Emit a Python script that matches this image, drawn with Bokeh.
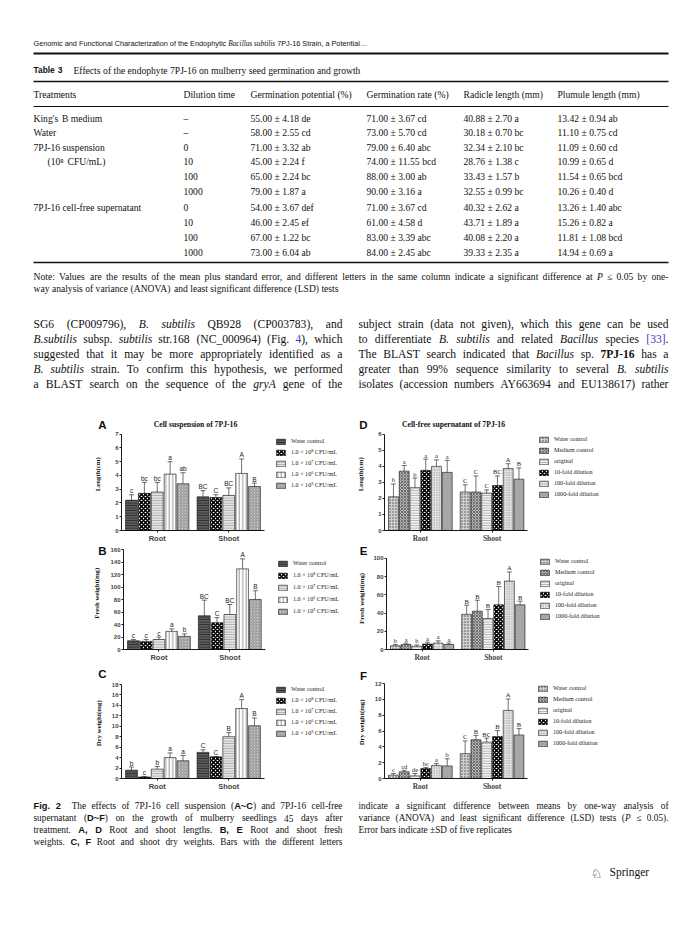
import re
import math
from bokeh.plotting import figure
from bokeh.models import (ColumnDataSource, Range1d, Legend, LegendItem, FixedTicker)
from bokeh.transform import dodge
from bokeh.layouts import column, row
from bokeh.core.properties import value, field
from bokeh.embed import file_html
from bokeh.resources import INLINE

# ------------------------------------------------------------------ data
groups = ["Root", "Shoot"]

susp_labels = ["Water control", "1.0 × 10⁸ CFU/mL", "1.0 × 10⁷ CFU/mL",
               "1.0 × 10⁶ CFU/mL", "1.0 × 10⁵ CFU/mL"]
sup_labels = ["Water control", "Medium control", "original",
              "10-fold dilution", "100-fold dilution", "1000-fold dilution"]

# A  length (cm): per treatment [Root, Shoot]
A_mean = [[2.2, 2.45], [2.7, 2.4], [2.8, 2.55], [4.1, 4.15], [3.4, 3.2]]
A_err = [[0.4, 0.45], [0.8, 0.2], [0.7, 0.55], [0.9, 1.05], [0.8, 0.25]]
A_let = [["c", "BC"], ["bc", "C"], ["bc", "BC"], ["a", "A"], ["ab", "B"]]

# B  fresh weight (mg)
B_mean = [[14, 54], [13, 43], [16, 56], [29, 129], [21, 80]]
B_err = [[2, 25], [3, 8], [4, 16], [4, 16], [4, 14]]
B_let = [["c", "BC"], ["c", "C"], ["c", "BC"], ["a", "A"], ["b", "B"]]

# C  dry weight (mg)
C_mean = [[1.6, 5.0], [0.3, 4.15], [1.8, 8.0], [4.0, 13.4], [3.4, 10.1]]
C_err = [[0.6, 0.5], [0.1, 0.05], [0.5, 0.8], [0.9, 1.7], [1.0, 1.5]]
C_let = [["b", "C"], ["c", "C"], ["b", "B"], ["a", "A"], ["a", "B"]]

# D  length (cm)
D_mean = [[2.1, 2.4], [3.7, 2.4], [2.67, 2.33], [3.75, 2.8], [4.0, 3.86], [3.62, 3.2]]
D_err = [[0.8, 0.45], [0.35, 1.0], [0.6, 0.2], [0.7, 0.6], [0.4, 0.3], [0.75, 0.7]]
D_let = [["b", "C"], ["a", "C"], ["b", "C"], ["a", "BC"], ["a", "A"], ["a", "B"]]

# E  fresh weight (mg)
E_mean = [[4.0, 38.6], [5.5, 42.0], [3.5, 34.0], [6.0, 49.0], [7.0, 75.0], [5.5, 49.0]]
E_err = [[1.5, 10], [1.5, 12], [1.5, 10], [2.0, 20], [2.5, 10], [1.5, 4]]
E_let = [["b", "B"], ["a", "B"], ["b", "B"], ["a", "B"], ["a", "A"], ["a", "B"]]

# F  dry weight (mg)
F_mean = [[0.42, 3.14], [0.84, 4.9], [0.33, 4.6], [1.26, 5.3], [1.63, 8.6], [1.59, 5.5]]
F_err = [[0.2, 1.6], [0.2, 0.55], [0.3, 0.5], [0.12, 0.75], [0.25, 1.45], [0.9, 0.8]]
F_let = [["c", "C"], ["cd", "B"], ["de", "BC"], ["bc", "B"], ["a", "A"], ["b", "B"]]

# Table 3
tbl_head = ["Treatments", "Dilution time", "Germination potential (%)",
            "Germination rate (%)", "Radicle length (mm)", "Plumule length (mm)"]
tbl_treat = ["King's B medium", "Water", "7PJ-16 suspension", "(10⁸ CFU/mL)", "", "",
             "7PJ-16 cell-free supernatant", "", "", ""]
tbl_dilution = ["–", "–", "0", "10", "100", "1000", "0", "10", "100", "1000"]
tbl_potential = ["55.00 ± 4.18 de", "58.00 ± 2.55 cd", "71.00 ± 3.32 ab", "45.00 ± 2.24 f",
                 "65.00 ± 2.24 bc", "79.00 ± 1.87 a", "54.00 ± 3.67 def", "46.00 ± 2.45 ef",
                 "67.00 ± 1.22 bc", "73.00 ± 6.04 ab"]
tbl_rate = ["71.00 ± 3.67 cd", "73.00 ± 5.70 cd", "79.00 ± 6.40 abc", "74.00 ± 11.55 bcd",
            "88.00 ± 3.00 ab", "90.00 ± 3.16 a", "71.00 ± 3.67 cd", "61.00 ± 4.58 d",
            "83.00 ± 3.39 abc", "84.00 ± 2.45 abc"]
tbl_radicle = ["40.88 ± 2.70 a", "30.18 ± 0.70 bc", "32.34 ± 2.10 bc", "28.76 ± 1.38 c",
               "33.43 ± 1.57 b", "32.55 ± 0.99 bc", "40.32 ± 2.62 a", "43.71 ± 1.89 a",
               "40.08 ± 2.20 a", "39.33 ± 2.35 a"]
tbl_plumule = ["13.42 ± 0.94 ab", "11.10 ± 0.75 cd", "11.09 ± 0.60 cd", "10.99 ± 0.65 d",
               "11.54 ± 0.65 bcd", "10.26 ± 0.40 d", "13.26 ± 1.40 abc", "15.26 ± 0.82 a",
               "11.81 ± 1.08 bcd", "14.94 ± 0.69 a"]

# ------------------------------------------------------------------ fonts / metrics
SERIF = "Liberation Serif"
SANS = "Liberation Sans"


def _tab(spec):
    d = {}
    for w, chars in spec:
        for c in chars:
            d[c] = w
    return d


W_TR = _tab([(250, " ,."), (278, "ijlt/:;"), (333, "()[]-fr'’I!"), (389, "sJ"),
             (444, "acez?"), (500, "bdghknopquvxy0123456789_–"), (541, "~"), (549, "≤"),
             (556, "FPS"), (564, "±×+=<>"), (611, "ELTZ"), (667, "BCR"),
             (722, "ADGHKNOQUVXYw"), (778, "m"), (833, "%"), (889, "M"), (944, "W")])
W_TI = _tab([(250, " ,."), (278, "fijlt/:;"), (333, "()[]-I'’"), (389, "rsz"),
             (444, "ceJkvxy"), (500, "abdghnopqu0123456789S"), (556, "LTYZ"),
             (611, "ABEFPRVX"), (667, "CKNw"), (722, "DGHOQUm"), (833, "MW%")])
W_TB = _tab([(250, " ,."), (278, "il:;/"), (333, "()[]-ftj'’"), (389, "sI"), (444, "cerz"),
             (500, "agvxyJ0123456789"), (556, "bdhknpquS"), (611, "FP"), (667, "BELTZ"),
             (722, "ACDNRUVXYw"), (778, "GHKOQ"), (833, "m"), (944, "M"), (1000, "W%")])
W_AR = _tab([(191, "'"), (222, "ijl"), (278, " ,./:;ftI!"), (333, "()-r[]"),
             (500, "cksvxyzJ"), (556, "abdeghnopqu0123456789L_"), (584, "~±×"),
             (611, "FTZ"), (667, "ABEKPSVXY"), (722, "CDHNRUw"), (778, "GOQ"),
             (833, "mM"), (889, "%"), (944, "W"), (1000, "…")])
W_AB = _tab([(278, " ,./:;ijlI"), (333, "()-ft"), (389, "r"), (556, "acesxyzkv0123456789"),
             (584, "~"), (611, "bdghnopquFTZ"), (667, "E"), (722, "ABCDHKNRU"), (778, "GO")])

STYLES = {
    'n': (W_TR, SERIF, 'normal', '#111111'),
    'i': (W_TI, SERIF, 'italic', '#111111'),
    'b': (W_TB, SERIF, 'bold', '#111111'),
    'l': (W_TR, SERIF, 'normal', '#3b3bc4'),
    'sb': (W_AB, SANS, 'bold', '#111111'),
    'h': (W_AR, SANS, 'normal', '#111111'),
}


def text_width(s, st, size):
    tab = STYLES[st][0]
    return sum(tab.get(c, 500) for c in s) * size / 1000.0


def fit_size(segs, target, cap):
    w1 = sum(text_width(t, st, 1.0) for t, st in segs)
    return min(cap, round(target / w1 * 0.985, 2))


def set_line(runs, segs, x0, yc, size, target=None):
    toks = []
    for txt, st in segs:
        for part in re.split(r'( )', txt):
            if part:
                toks.append((part, st))
    ws = [text_width(t, st, size) for t, st in toks]
    nsp = sum(1 for t, _ in toks if t == ' ')
    extra = 0.0
    if target is not None and nsp:
        extra = max((target - sum(ws)) / nsp, -0.08 * size)
    x = x0
    base = yc + 0.32 * size - 3
    for (t, st), w in zip(toks, ws):
        if t == ' ':
            x += w + extra
            continue
        runs.append((x, base, t, st, size))
        x += w


def blank_figure(W, H):
    p = figure(width=W, height=H, x_range=Range1d(0, W), y_range=Range1d(H, 0),
               output_backend="svg", toolbar_location=None, min_border=0,
               x_axis_location=None, y_axis_location=None)
    p.grid.visible = False
    p.outline_line_color = None
    return p


def text_figure(W, H, ox, oy, runs, rules):
    p = blank_figure(W, H)
    d = dict(x=[], y=[], t=[], font=[], fst=[], fsz=[], col=[])
    for x, y, t, st, size in runs:
        _, font, fst, col = STYLES[st]
        d['x'].append(x - ox)
        d['y'].append(y - oy)
        d['t'].append(t)
        d['font'].append(font)
        d['fst'].append(fst)
        d['fsz'].append(f"{size}px")
        d['col'].append(col)
    p.text(x='x', y='y', text='t', source=ColumnDataSource(d), text_font=field('font'),
           text_font_style=field('fst'), text_font_size=field('fsz'),
           text_color=field('col'), text_baseline='alphabetic', text_align='left')
    for x0, x1, y, w in rules:
        p.segment(x0=[x0 - ox], x1=[x1 - ox], y0=[y - oy], y1=[y - oy],
                  line_width=w, line_color='#111111')
    return p


PAGE_W = 700
# ------------------------------------------------------------------ top text block
runs = []
set_line(runs, [("Genomic and Functional Characterization of the Endophytic ", 'h'),
                ("Bacillus subtilis", 'i'), (" 7PJ-16 Strain, a Potential…", 'h')], 33, 44, 7.3)
set_line(runs, [("Table 3", 'sb')], 33, 70, 8.4)
set_line(runs, [("Effects of the endophyte 7PJ-16 on mulberry seed germination and growth", 'n')],
         73, 70, 9.6)

col_x = [33, 183, 250, 366, 463, 557]
for cx, h in zip(col_x, tbl_head):
    set_line(runs, [(h, 'n')], cx, 94, 9.6)
row_y = [118, 132, 147, 161, 176, 191, 207, 222, 237, 252]
for i, yy in enumerate(row_y):
    tx = 47 if tbl_treat[i].startswith("(") else 33
    if tbl_treat[i]:
        set_line(runs, [(tbl_treat[i], 'n')], tx, yy, 9.6)
    for cx, colvals in zip(col_x[1:], [tbl_dilution, tbl_potential, tbl_rate,
                                        tbl_radicle, tbl_plumule]):
        set_line(runs, [(colvals[i], 'n')], cx, yy, 9.6)

note1 = [("Note: Values are the results of the mean plus standard error, and different letters "
          "in the same column indicate a significant difference at ", 'n'), ("P", 'i'),
         (" ≤ 0.05 by one-", 'n')]
note2 = [("way analysis of variance (ANOVA) and least significant difference (LSD) tests", 'n')]
nsize = fit_size(note1, 635, 9.6)
set_line(runs, note1, 33, 276, nsize, target=635)
set_line(runs, note2, 33, 288, nsize)

par_left = [
    [("SG6 (CP009796), ", 'n'), ("B. subtilis", 'i'), (" QB928 (CP003783), and", 'n')],
    [("B.subtilis", 'i'), (" subsp. ", 'n'), ("subtilis", 'i'), (" str.168 (NC_000964) (Fig. ", 'n'),
     ("4", 'l'), ("), which", 'n')],
    [("suggested that it may be more appropriately identified as a", 'n')],
    [("B. subtilis", 'i'), (" strain. To confirm this hypothesis, we performed", 'n')],
    [("a BLAST search on the sequence of the ", 'n'), ("gryA", 'i'), (" gene of the", 'n')],
]
par_right = [
    [("subject strain (data not given), which this gene can be used", 'n')],
    [("to differentiate ", 'n'), ("B. subtilis", 'i'), (" and related ", 'n'), ("Bacillus", 'i'),
     (" species ", 'n'), ("[33]", 'l'), (".", 'n')],
    [("The BLAST search indicated that ", 'n'), ("Bacillus", 'i'), (" sp. ", 'n'),
     ("7PJ-16", 'b'), (" has a", 'n')],
    [("greater than 99% sequence similarity to several ", 'n'), ("B. subtilis", 'i')],
    [("isolates (accession numbers AY663694 and EU138617) rather", 'n')],
]
for k, yy in enumerate([323, 338, 353, 368, 383]):
    set_line(runs, par_left[k], 33, yy, 11.6, target=309)
    set_line(runs, par_right[k], 358, yy, 11.6, target=310)

top_rules = [(33, 668, 53, 2.2), (33, 668, 81, 1.5), (33, 668, 106, 1.2), (33, 668, 262, 1.5)]
top_fig = text_figure(PAGE_W, 396, 0, 0, runs, top_rules)

# ------------------------------------------------------------------ caption block
cruns = []
cap_left = [
    [("Fig. 2", 'sb'), ("  The effects of 7PJ-16 cell suspension (", 'n'), ("A~C", 'sb'),
     (") and 7PJ-16 cell-free", 'n')],
    [("supernatant (", 'n'), ("D~F", 'sb'), (") on the growth of mulberry seedlings 45 days after", 'n')],
    [("treatment. ", 'n'), ("A, D", 'sb'), (" Root and shoot lengths. ", 'n'), ("B, E", 'sb'),
     (" Root and shoot fresh", 'n')],
    [("weights. ", 'n'), ("C, F", 'sb'), (" Root and shoot dry weights. Bars with the different letters", 'n')],
]
cap_right = [
    [("indicate a significant difference between means by one-way analysis of", 'n')],
    [("variance (ANOVA) and least significant difference (LSD) tests (", 'n'), ("P", 'i'),
     (" ≤ 0.05).", 'n')],
    [("Error bars indicate ±SD of five replicates", 'n')],
]
for k, yy in enumerate([806, 818, 830, 842]):
    set_line(cruns, cap_left[k], 33, yy, 9.3, target=309)
for k, yy in enumerate([806, 818, 830]):
    set_line(cruns, cap_right[k], 358, yy, 9.3, target=310 if k < 2 else None)
set_line(cruns, [("Springer", 'n')], 609, 871, 11.5)
cap_fig = text_figure(PAGE_W, 130, 0, 795, cruns, [])
cap_fig.text(x=[596], y=[873 - 795], text=["♘"], text_font=value("DejaVu Sans"),
             text_font_size="13px", text_baseline="alphabetic", text_align="center",
             text_color="#222222")

# ------------------------------------------------------------------ bar charts
susp_styles = [
    dict(fill="#5e5e5e", hatch="horizontal_line", hc="#1c1c1c", hs=2.5, hw=0.8),
    dict(fill="white", hatch="diagonal_cross", hc="#000000", hs=4, hw=1.6),
    dict(fill="#e6e6e6", hatch="horizontal_line", hc="#8c8c8c", hs=2.5, hw=0.7),
    dict(fill="white", hatch="vertical_line", hc="#6a6a6a", hs=3.5, hw=0.7),
    dict(fill="#c6c6c6", hatch="right_diagonal_line", hc="#7a7a7a", hs=3, hw=0.7),
]
sup_styles = [
    dict(fill="#cfcfcf", hatch="dot", hc="#4a4a4a", hs=3, hw=1),
    dict(fill="#b4b4b4", hatch="diagonal_cross", hc="#505050", hs=3, hw=0.7),
    dict(fill="#f0f0f0", hatch="horizontal_line", hc="#909090", hs=2.5, hw=0.7),
    dict(fill="white", hatch="diagonal_cross", hc="#000000", hs=4, hw=1.6),
    dict(fill="#e4e4e4", hatch="dot", hc="#8a8a8a", hs=2.5, hw=1),
    dict(fill="#c6c6c6", hatch="left_diagonal_line", hc="#7c7c7c", hs=3, hw=0.7),
]


def gutter(x_left, x_right, row_top, H, letter, lxy, ylabel, ycx, ycy):
    p = blank_figure(x_right - x_left, H)
    p.text(x=[lxy[0] - x_left], y=[lxy[1] - row_top], text=[letter], text_font=value(SANS),
           text_font_style='bold', text_font_size='11.5px', text_align='center',
           text_baseline='middle', text_color='#111111')
    p.text(x=[ycx - x_left], y=[ycy - row_top], text=[ylabel], angle=math.pi / 2,
           text_font=value(SERIF), text_font_style='bold', text_font_size='6.8px',
           text_align='center', text_baseline='middle', text_color='#111111')
    return p


def bar_chart(geo, ymax, ystep, means, errs, lets, labels, styles, legend_geo,
              title=None, title_xy=None, serif=False):
    # geo: figure x-span, row top, height, axis-left px, group width px, axis-top px, axis-zero px
    x_left, x_right, row_top, H, fl, unit, ytop_px, fb = geo
    W = x_right - x_left
    fr = x_right - 2
    ft = row_top + 1
    x_end = (fr - fl) / unit
    y_end = ymax * (fb - ft) / (fb - ytop_px)
    p = figure(width=W, height=H, x_range=Range1d(0, x_end), y_range=Range1d(0, y_end),
               output_backend="svg", toolbar_location=None,
               min_border_left=fl - x_left, min_border_right=x_right - fr,
               min_border_top=ft - row_top, min_border_bottom=row_top + H - fb)
    p.grid.visible = False
    p.outline_line_color = None
    n = len(labels)
    slot = 0.9 / n
    gx = [k + 0.5 for k in range(len(groups))]
    lfont = SERIF if serif else SANS
    items = []
    for i in range(n):
        off = (i - (n - 1) / 2) * slot
        up = [m + e for m, e in zip(means[i], errs[i])]
        src = ColumnDataSource(dict(gx=gx, g=groups, top=means[i], up=up, lab=lets[i]))
        st = styles[i]
        xd = dodge('gx', off)
        r = p.vbar(x=xd, top='top', bottom=0, width=slot * 0.92, source=src,
                   fill_color=st['fill'], hatch_pattern=st['hatch'], hatch_color=st['hc'],
                   hatch_scale=st['hs'], hatch_weight=st['hw'],
                   line_color='#111111', line_width=0.6)
        p.segment(x0=xd, x1=xd, y0='top', y1='up', source=src,
                  line_color='#111111', line_width=0.6)
        p.scatter(x=xd, y='up', source=src, marker='dash', size=5,
                  line_color='#111111', line_width=0.6)
        p.text(x=xd, y='up', text='lab', source=src, text_align='center',
               text_baseline='bottom', y_offset=-0.5, text_font=value(lfont),
               text_font_size='6.5px', text_color='#222222')
        items.append(LegendItem(label=labels[i], renderers=[r]))

    sw_x, first_c, pitch = legend_geo
    lh = 7
    spacing = int(round(pitch - lh))
    leg_h = n * lh + (n - 1) * spacing
    vy = (fb - (first_c - lh / 2)) - leg_h
    legend = Legend(items=items, location=(sw_x - fl, vy), orientation='vertical',
                    glyph_width=11, glyph_height=7, label_height=7, label_width=10,
                    spacing=spacing, padding=0, margin=0, label_standoff=5,
                    label_text_font=SERIF, label_text_font_size='6.1px',
                    label_text_color='#222222',
                    border_line_color=None, background_fill_alpha=0)
    p.add_layout(legend)

    if title:
        tx, ty = title_xy
        p.text(x=[(tx - fl) / unit], y=[ymax * (fb - ty) / (fb - ytop_px)], text=[title],
               text_font=value(SERIF), text_font_style='bold', text_font_size='7.7px',
               text_align='center', text_baseline='middle', text_color='#111111')

    yax = p.yaxis[0]
    yax.ticker = FixedTicker(ticks=list(range(0, ymax + ystep, ystep)))
    yax.bounds = (0, ymax)
    yax.major_label_text_font = SANS
    yax.major_label_text_font_style = 'bold'
    yax.major_label_text_font_size = '6px'
    yax.major_label_standoff = 1
    yax.major_tick_out = 2
    yax.major_tick_in = 0
    yax.minor_tick_out = 0
    yax.axis_line_width = 0.9
    yax.major_tick_line_width = 0.9
    xax = p.xaxis[0]
    xax.ticker = FixedTicker(ticks=gx)
    xax.major_label_overrides = {x: g for x, g in zip(gx, groups)}
    xax.bounds = (0, len(groups))
    xax.major_label_text_font = SERIF if serif else SANS
    xax.major_label_text_font_style = 'bold'
    xax.major_label_text_font_size = '7.5px'
    xax.major_label_standoff = 1
    xax.major_tick_out = 2
    xax.major_tick_in = 0
    xax.minor_tick_out = 0
    xax.axis_line_width = 0.9
    xax.major_tick_line_width = 0.9
    return p


GL = (0, 107)     # left gutter x-span
GR = (352, 370)   # right gutter x-span

gA = gutter(GL[0], GL[1], 396, 149, "A", (102, 427), "Length(cm)", 97, 482)
pA = bar_chart((107, 352, 396, 149, 121, 71.5, 434, 531), 7, 1,
               A_mean, A_err, A_let, susp_labels, susp_styles, (275, 442, 11),
               title="Cell suspension of 7PJ-16", title_xy=(195, 424))
gD = gutter(GR[0], GR[1], 396, 149, "D", (363, 427), "Length(cm)", 360, 482)
pD = bar_chart((370, PAGE_W, 396, 149, 384, 71.7, 434, 531), 6, 1,
               D_mean, D_err, D_let, sup_labels, sup_styles, (538, 440, 10.8),
               title="Cell-free supernatant of 7PJ-16", title_xy=(453, 424), serif=True)

gB = gutter(GL[0], GL[1], 545, 119, "B", (102, 550), "Fresh weight(mg)", 96, 599)
pB = bar_chart((107, 352, 545, 119, 121, 71.5, 549, 649), 160, 20,
               B_mean, B_err, B_let, susp_labels, susp_styles, (275, 563, 11.75))
gE = gutter(GR[0], GR[1], 545, 119, "E", (363, 550), "Fresh weight(mg)", 361, 605)
pE = bar_chart((370, PAGE_W, 545, 119, 384, 71.7, 558, 651), 100, 20,
               E_mean, E_err, E_let, sup_labels, sup_styles, (537, 563, 10.8), serif=True)

gC = gutter(GL[0], GL[1], 664, 131, "C", (102, 674), "Dry weight(mg)", 98, 731)
pC = bar_chart((107, 352, 664, 131, 121, 71.5, 684, 778), 18, 2,
               C_mean, C_err, C_let, susp_labels, susp_styles, (275, 689, 11.5))
gF = gutter(GR[0], GR[1], 664, 131, "F", (363, 676), "Dry weight(mg)", 361, 730)
pF = bar_chart((370, PAGE_W, 664, 131, 384, 71.7, 683, 778), 12, 2,
               F_mean, F_err, F_let, sup_labels, sup_styles, (537, 688, 11), serif=True)

layout = column(top_fig,
                row(gA, pA, gD, pD),
                row(gB, pB, gE, pE),
                row(gC, pC, gF, pF),
                cap_fig)
open("out.html", "w").write(file_html(layout, INLINE, title="Table 3 and Fig. 2"))
